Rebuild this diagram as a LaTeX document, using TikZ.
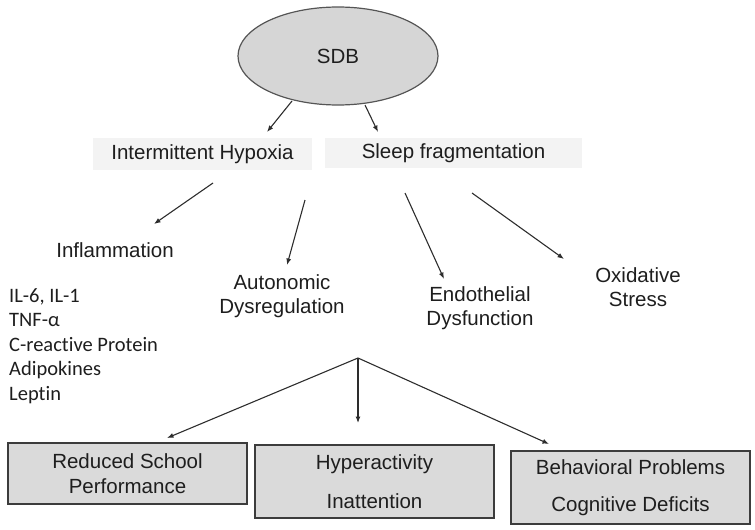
\documentclass[tikz,border=0pt]{standalone}
\usepackage{fontspec}
\setmainfont{Liberation Sans}
\newfontfamily\calib[Ligatures=NoCommon]{Carlito}
\usetikzlibrary{shapes.geometric,arrows.meta}
\definecolor{ellfill}{RGB}{214,214,214}
\definecolor{ellline}{RGB}{85,85,85}
\definecolor{topfill}{RGB}{243,243,243}
\definecolor{boxfill}{RGB}{218,218,218}
\definecolor{boxline}{RGB}{60,60,60}
\definecolor{ink}{RGB}{30,30,30}
\definecolor{arr}{RGB}{45,45,45}
\tikzset{
  txt/.style={font=\fontsize{20.5}{24.6}\selectfont, text=ink, align=center, inner sep=0pt},
  topbox/.style={txt, rectangle, fill=topfill, inner sep=0pt},
  outbox/.style={txt, rectangle, fill=boxfill, draw=boxline, line width=1.4pt, inner sep=0pt},
  conn/.style={draw=arr, line width=1.1pt, -{Latex[length=6.5pt,width=5pt]}}
}
\begin{document}
\begin{tikzpicture}[x=1pt,y=-1pt]
\useasboundingbox (0,0) rectangle (755,530);
% top
\node[txt, ellipse, fill=ellfill, draw=ellline, line width=1.2pt, minimum width=200pt, minimum height=98pt] (sdb) at (338,56) {SDB};
\node[topbox, minimum width=219pt, minimum height=32pt] (ih) at (202.5,154) {Intermittent Hypoxia};
\node[topbox, minimum width=257pt, minimum height=30pt] (sf) at (453.5,153) {Sleep fragmentation};
% mid texts
\node[txt] (infl) at (115,250) {Inflammation};
\node[txt, font=\calib\fontsize{20.5}{24.5}\selectfont, align=left, anchor=west] (list) at (9,346)
  {IL-6, IL-1\\TNF-α\\C-reactive Protein\\Adipokines\\Leptin};
\node[txt] (auto) at (282,296) {Autonomic\\Dysregulation};
\node[txt] (endo) at (480,308) {Endothelial\\Dysfunction};
\node[txt] (oxid) at (638,287) {Oxidative\\Stress};
% bottom boxes
\node[outbox, minimum width=239pt, minimum height=61pt] (rsp) at (127.5,473.5) {Reduced School\\Performance};
\node[outbox, minimum width=239pt, minimum height=73pt] (hyp) at (374.5,481.5) {Hyperactivity\\[14pt]Inattention};
\node[outbox, minimum width=239pt, minimum height=73pt] (beh) at (630.5,487.5) {Behavioral Problems\\[13pt]Cognitive Deficits};
% connector points
\coordinate (s1) at (292,101); \coordinate (e1) at (267,132);
\coordinate (s2) at (365,105); \coordinate (e2) at (378,132);
\coordinate (s3) at (213,183); \coordinate (e3) at (154,224);
\coordinate (s4) at (305,200); \coordinate (e4) at (287,265);
\coordinate (s5) at (405,193); \coordinate (e5) at (444,279);
\coordinate (s6) at (472,193); \coordinate (e6) at (564,259);
\coordinate (apex) at (358,358);
\coordinate (e7) at (167,438);
\coordinate (e8) at (358,423);
\coordinate (e9) at (549,444);
\draw[conn] (s1) -- (e1);
\draw[conn] (s2) -- (e2);
\draw[conn] (s3) -- (e3);
\draw[conn] (s4) -- (e4);
\draw[conn] (s5) -- (e5);
\draw[conn] (s6) -- (e6);
\draw[conn] (apex) -- (e7);
\draw[conn] (apex) -- (e8);
\draw[conn] (apex) -- (e9);
\end{tikzpicture}
\end{document}
